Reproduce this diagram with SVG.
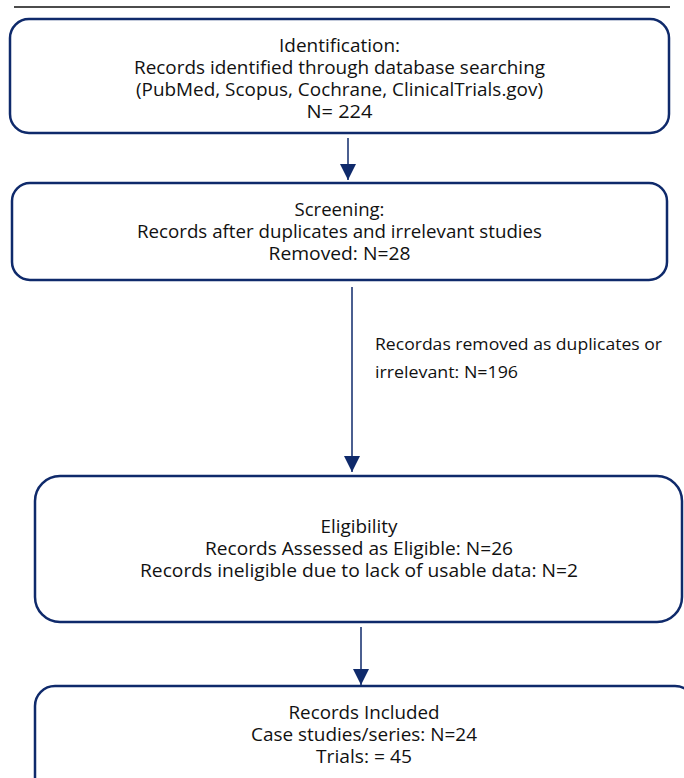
<svg xmlns="http://www.w3.org/2000/svg" width="684" height="778" viewBox="0 0 684 778">
<style>
.box{fill:#ffffff;stroke:#0f2a6b;stroke-width:2.5}
.t{font-family:"Open Sans","Noto Sans","DejaVu Sans",sans-serif;font-size:18px;fill:#111111;text-anchor:middle}
.t2{font-size:17.5px}
.lbl{font-family:"Open Sans","Noto Sans","DejaVu Sans",sans-serif;font-size:16px;fill:#111111}
.con{stroke:#0f2a6b;stroke-width:1.5;fill:none}
</style>
<defs>
<marker id="ah" markerWidth="16" markerHeight="16" viewBox="0 0 16 16" refX="16" refY="8" orient="auto" markerUnits="userSpaceOnUse">
<path d="M0,0 L16,8 L0,16 Z" fill="#0f2a6b"/>
</marker>
</defs>
<rect width="684" height="778" fill="#ffffff"/>
<line x1="14" y1="7" x2="670" y2="7" stroke="#111111" stroke-width="1.3"/>
<g id="identification">
<rect class="box" x="10" y="19" width="659" height="114" rx="19"/>
<text class="t" x="339.5" y="52" textLength="121" lengthAdjust="spacingAndGlyphs">Identification:</text>
<text class="t" x="339.5" y="74" textLength="411" lengthAdjust="spacingAndGlyphs">Records identified through database searching</text>
<text class="t" x="339.5" y="96" textLength="407" lengthAdjust="spacingAndGlyphs">(PubMed, Scopus, Cochrane, ClinicalTrials.gov)</text>
<text class="t" x="339.5" y="118" textLength="66" lengthAdjust="spacingAndGlyphs">N= 224</text>
</g>
<g id="screening">
<rect class="box" x="12" y="183" width="655" height="97" rx="18"/>
<text class="t t2" x="339.5" y="216" textLength="90" lengthAdjust="spacingAndGlyphs">Screening:</text>
<text class="t t2" x="339.5" y="238" textLength="405" lengthAdjust="spacingAndGlyphs">Records after duplicates and irrelevant studies</text>
<text class="t t2" x="339.5" y="260" textLength="142" lengthAdjust="spacingAndGlyphs">Removed: N=28</text>
</g>
<g id="eligibility">
<rect class="box" x="35" y="476" width="647" height="146" rx="25"/>
<text class="t t2" x="359" y="533" textLength="77" lengthAdjust="spacingAndGlyphs">Eligibility</text>
<text class="t t2" x="359" y="555" textLength="308" lengthAdjust="spacingAndGlyphs">Records Assessed as Eligible: N=26</text>
<text class="t t2" x="359" y="577" textLength="438" lengthAdjust="spacingAndGlyphs">Records ineligible due to lack of usable data: N=2</text>
</g>
<g id="included">
<rect class="box" x="35" y="686" width="660" height="120" rx="20"/>
<text class="t t2" x="364" y="719" textLength="151" lengthAdjust="spacingAndGlyphs">Records Included</text>
<text class="t t2" x="364" y="741" textLength="226" lengthAdjust="spacingAndGlyphs">Case studies/series: N=24</text>
<text class="t t2" x="364" y="763" textLength="96" lengthAdjust="spacingAndGlyphs">Trials: = 45</text>
</g>
<g id="connectors">
<line class="con" x1="348" y1="138" x2="348" y2="180" marker-end="url(#ah)"/>
<line class="con" x1="352" y1="287" x2="352" y2="472" marker-end="url(#ah)"/>
<line class="con" x1="361" y1="627" x2="361" y2="685" marker-end="url(#ah)"/>
<text class="lbl" x="375" y="350" textLength="287" lengthAdjust="spacingAndGlyphs">Recordas removed as duplicates or</text>
<text class="lbl" x="375" y="378" textLength="143" lengthAdjust="spacingAndGlyphs">irrelevant: N=196</text>
</g>
</svg>
